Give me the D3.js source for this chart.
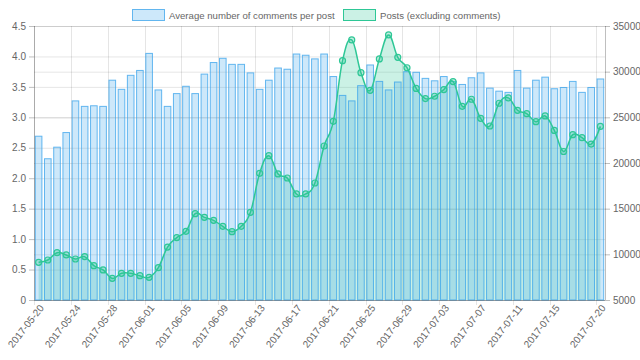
<!DOCTYPE html>
<html>
<head>
<meta charset="utf-8">
<script src="https://cdn.jsdelivr.net/npm/d3@7"></script>
<style>
  body { margin: 0; background: #fff; }
  text { font-family: "Liberation Sans", Arial, sans-serif; fill: #666; }
</style>
</head>
<body>
<div id="chart"></div>
<script>
// categories
var dates = [
  "2017-05-20", "2017-05-21", "2017-05-22", "2017-05-23", "2017-05-24", "2017-05-25", "2017-05-26", "2017-05-27",
  "2017-05-28", "2017-05-29", "2017-05-30", "2017-05-31", "2017-06-01", "2017-06-02", "2017-06-03", "2017-06-04",
  "2017-06-05", "2017-06-06", "2017-06-07", "2017-06-08", "2017-06-09", "2017-06-10", "2017-06-11", "2017-06-12",
  "2017-06-13", "2017-06-14", "2017-06-15", "2017-06-16", "2017-06-17", "2017-06-18", "2017-06-19", "2017-06-20",
  "2017-06-21", "2017-06-22", "2017-06-23", "2017-06-24", "2017-06-25", "2017-06-26", "2017-06-27", "2017-06-28",
  "2017-06-29", "2017-06-30", "2017-07-01", "2017-07-02", "2017-07-03", "2017-07-04", "2017-07-05", "2017-07-06",
  "2017-07-07", "2017-07-08", "2017-07-09", "2017-07-10", "2017-07-11", "2017-07-12", "2017-07-13", "2017-07-14",
  "2017-07-15", "2017-07-16", "2017-07-17", "2017-07-18", "2017-07-19", "2017-07-20"
];

// bars: average number of comments per post (left axis)
var avgComments = [
  2.69, 2.32, 2.51, 2.75, 3.27, 3.18, 3.19, 3.18, 3.61, 3.46,
  3.69, 3.77, 4.05, 3.45, 3.18, 3.39, 3.51, 3.39, 3.71, 3.90,
  3.97, 3.87, 3.87, 3.73, 3.46, 3.61, 3.81, 3.79, 4.04, 4.02,
  3.96, 4.04, 3.67, 3.36, 3.27, 3.52, 3.86, 3.59, 3.45, 3.58,
  3.75, 3.74, 3.64, 3.60, 3.67, 3.59, 3.54, 3.65, 3.73, 3.48,
  3.43, 3.41, 3.77, 3.48, 3.61, 3.66, 3.47, 3.49, 3.59, 3.41,
  3.49, 3.63
];

// line: posts excluding comments (right axis)
var posts = [
  9120, 9380, 10180, 9930, 9490, 9750, 8760, 8290, 7370, 7920,
  7920, 7660, 7480, 8540, 10800, 11830, 12520, 14450, 14050, 13720,
  13070, 12480, 13070, 14600, 18870, 20800, 18800, 18360, 16610, 16610,
  17810, 21860, 24560, 31200, 33470, 29890, 27960, 31390, 34020, 31570,
  30430, 28160, 27050, 27310, 28040, 28920, 26210, 26980, 24890, 24050,
  26540, 27130, 25770, 25400, 24520, 25150, 23570, 21260, 23100, 22770,
  22070, 24010
];

var leftTicks = [0, 0.5, 1.0, 1.5, 2.0, 2.5, 3.0, 3.5, 4.0, 4.5];
var rightTicks = [5000, 10000, 15000, 20000, 25000, 30000, 35000];
var legendLabels = ["Average number of comments per post", "Posts (excluding comments)"];

var w = 640;
var h = 360;
var pLeft = 34, pRight = 605, pTop = 26, pBottom = 300;

var green = "rgb(46,199,150)";

var svg = d3.select("#chart")
  .append("svg")
  .attr("width", w)
  .attr("height", h);

var x = d3.scaleBand()
  .domain(dates)
  .range([pLeft, pRight]);

var yL = d3.scaleLinear()
  .domain([0, 4.5])
  .range([pBottom, pTop]);

var yR = d3.scaleLinear()
  .domain([5000, 35000])
  .range([pBottom, pTop]);

// ticks shown on x axis (every 4th day + last)
var shownDates = dates.filter((d, i) => (i % 4 === 0 && i + 4 < dates.length) || i === dates.length - 1);

// grid lines
var grid = svg.append("g").attr("class", "grid");
grid.selectAll(".gl")
  .data(leftTicks)
  .enter()
  .append("line")
  .attr("x1", pLeft).attr("x2", pRight)
  .attr("y1", (d) => yL(d) + 0.5).attr("y2", (d) => yL(d) + 0.5)
  .attr("stroke", "rgba(0,0,0,0.1)");
grid.selectAll(".gr")
  .data(rightTicks)
  .enter()
  .append("line")
  .attr("x1", pLeft).attr("x2", pRight)
  .attr("y1", (d) => yR(d) + 0.5).attr("y2", (d) => yR(d) + 0.5)
  .attr("stroke", "rgba(0,0,0,0.1)");
grid.selectAll(".gx")
  .data(shownDates)
  .enter()
  .append("line")
  .attr("x1", (d) => Math.round(x(d)) + 0.5).attr("x2", (d) => Math.round(x(d)) + 0.5)
  .attr("y1", pTop).attr("y2", pBottom + 5)
  .attr("stroke", "rgba(0,0,0,0.1)");

// posts area + line (area drawn behind the bars)
var cx = (d, i) => x(dates[i]) + x.bandwidth() / 2;
var curve = d3.curveCardinal.tension(-0.2);

var area = d3.area()
  .x(cx)
  .y0(pBottom)
  .y1((d) => yR(d))
  .curve(curve);

var line = d3.line()
  .x(cx)
  .y((d) => yR(d))
  .curve(curve);

svg.append("path")
  .datum(posts)
  .attr("d", area)
  .attr("fill", "rgba(46,199,150,0.25)");

// bars
var bw = x.bandwidth() * 0.72;
svg.selectAll(".bar")
  .data(avgComments)
  .enter()
  .append("rect")
  .attr("class", "bar")
  .attr("x", (d, i) => x(dates[i]) + (x.bandwidth() - bw) / 2)
  .attr("y", (d) => yL(d))
  .attr("width", bw)
  .attr("height", (d) => pBottom - yL(d))
  .attr("fill", "rgba(54,162,235,0.25)")
  .attr("stroke", "rgba(54,162,235,0.75)")
  .attr("stroke-width", 1);

svg.append("path")
  .datum(posts)
  .attr("d", line)
  .attr("fill", "none")
  .attr("stroke", green)
  .attr("stroke-width", 1.5);

svg.selectAll(".pt")
  .data(posts)
  .enter()
  .append("circle")
  .attr("class", "pt")
  .attr("cx", cx)
  .attr("cy", (d) => yR(d))
  .attr("r", 3)
  .attr("fill", "rgba(46,199,150,0.3)")
  .attr("stroke", green)
  .attr("stroke-width", 1.2);

// axes
var axisL = d3.axisLeft(yL)
  .tickValues(leftTicks)
  .tickFormat((d) => d === 0 ? "0" : d3.format(".1f")(d))
  .tickSize(5)
  .tickPadding(3);
var axisR = d3.axisRight(yR)
  .tickValues(rightTicks)
  .tickFormat((d) => d)
  .tickSize(5)
  .tickPadding(3);

var gL = svg.append("g")
  .attr("transform", "translate(" + pLeft + ",0)")
  .call(axisL);
var gR = svg.append("g")
  .attr("transform", "translate(" + pRight + ",0)")
  .call(axisR);

[gL, gR].forEach((g) => {
  g.selectAll("text").attr("font-size", "10px").attr("fill", "#666").attr("font-family", null);
  g.selectAll("line").attr("stroke", "rgba(0,0,0,0.25)");
  g.select(".domain").attr("stroke", "rgba(0,0,0,0.25)").attr("d", "M0.5," + pTop + "V" + pBottom);
});

// x axis baseline + tick labels
svg.append("line")
  .attr("x1", pLeft).attr("x2", pRight)
  .attr("y1", pBottom + 0.5).attr("y2", pBottom + 0.5)
  .attr("stroke", "rgba(0,0,0,0.25)");

svg.selectAll(".xl")
  .data(shownDates)
  .enter()
  .append("text")
  .attr("class", "xl")
  .attr("transform", (d) => "translate(" + (x(d) + x.bandwidth() / 2 + 3) + "," + (pBottom + 6) + ") rotate(-52)")
  .attr("text-anchor", "end")
  .attr("dy", "0.35em")
  .attr("font-size", "10px")
  .text((d) => d);

// legend
var legend = svg.append("g");
var legendX = [132, 343];
var legendFill = ["rgba(54,162,235,0.25)", "rgba(46,199,150,0.25)"];
var legendStroke = ["rgba(54,162,235,0.75)", green];
legend.selectAll("rect")
  .data(legendLabels)
  .enter()
  .append("rect")
  .attr("x", (d, i) => legendX[i] + 0.5)
  .attr("y", 9.5)
  .attr("width", 32)
  .attr("height", 11)
  .attr("fill", (d, i) => legendFill[i])
  .attr("stroke", (d, i) => legendStroke[i]);
legend.selectAll("text")
  .data(legendLabels)
  .enter()
  .append("text")
  .attr("x", (d, i) => legendX[i] + 37)
  .attr("y", 18.5)
  .attr("font-size", "9.6px")
  .text((d) => d);
</script>
</body>
</html>
